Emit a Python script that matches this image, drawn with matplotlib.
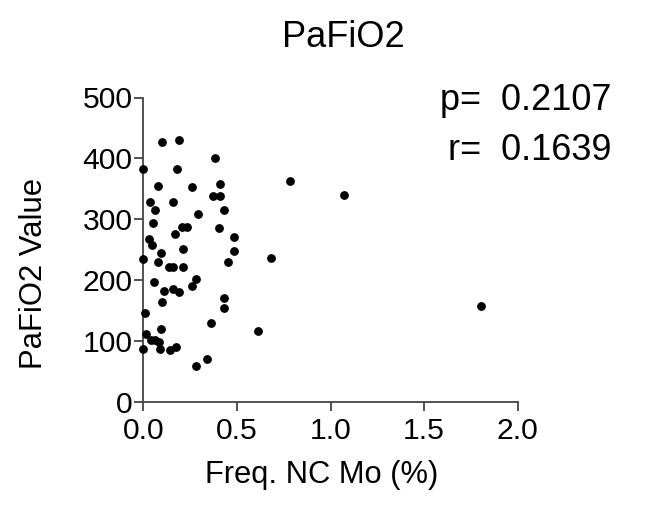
import matplotlib
matplotlib.use("Agg")
import matplotlib.pyplot as plt

plt.rcParams['font.family'] = ['Liberation Sans', 'DejaVu Sans']

freq_nc_mo = [0.10, 0.191, 0.382, 0.0, 0.18, 0.782, 1.073, 0.077, 0.259, 0.411,
              0.37, 0.412, 0.034, 0.159, 0.061, 0.432, 0.291, 0.054, 0.207, 0.236,
              0.402, 0.029, 0.171, 0.482, 0.048, 0.211, 0.095, 0.482, 0.0, 0.079,
              0.682, 0.45, 0.1375, 0.161, 0.211, 0.057, 0.282, 0.259, 0.109, 0.157,
              0.193, 0.10, 0.432, 0.432, 0.007, 0.361, 0.093, 0.611, 0.014, 0.043,
              0.064, 0.086, 0.0, 0.0875, 0.141, 0.175, 0.339, 0.282, 1.803]
pafio2 = [427, 430, 400, 382, 383, 363, 339, 354, 353, 358,
          338, 338, 329, 329, 315, 315, 308, 293, 287, 287,
          286, 268, 276, 271, 257, 251, 244, 247, 234, 230,
          236, 229, 222, 222, 222, 197, 201, 190, 182, 185,
          181, 164, 170, 154, 146, 130, 120, 117, 112, 101,
          101, 98, 87, 87, 85, 90, 70, 58, 158]

x_ticks = [0.0, 0.5, 1.0, 1.5, 2.0]
x_tick_labels = ["0.0", "0.5", "1.0", "1.5", "2.0"]
y_ticks = [0, 100, 200, 300, 400, 500]
y_tick_labels = ["0", "100", "200", "300", "400", "500"]

title = "PaFiO2"
x_label = "Freq. NC Mo (%)"
y_label = "PaFiO2 Value"
p_text = "p=  0.2107"
r_text = "r=  0.1639"

W, H = 654, 509
fig = plt.figure(figsize=(W / 100, H / 100), dpi=100)
left, right, bottom_px, top_px = 143.3, 517.7, 401.7, 97.5
ax = fig.add_axes([left / W, (H - bottom_px) / H, (right - left) / W, (bottom_px - top_px) / H])

ax.plot(freq_nc_mo, pafio2, 'o', color='black', markersize=5.3, clip_on=False, zorder=3)

ax.set_xlim(0, 2.0)
ax.set_ylim(0, 500)
ax.set_xticks(x_ticks)
ax.set_xticklabels(x_tick_labels)
ax.set_yticks(y_ticks)
ax.set_yticklabels(y_tick_labels)

for s in ['top', 'right']:
    ax.spines[s].set_visible(False)
for s in ['left', 'bottom']:
    ax.spines[s].set_color('#444444')
    ax.spines[s].set_linewidth(1.3)

ax.tick_params(axis='both', direction='out', length=6.8, width=1.3, color='#444444',
               labelsize=21.7, labelcolor='black')
ax.tick_params(axis='x', pad=4)
ax.tick_params(axis='y', pad=1)

def fy(px):
    return 1 - px / H

fig.text(321.7 / W, fy(483.3), x_label, fontsize=22.2, ha='center', va='baseline')
fig.text(41.7 / W, fy(273), y_label, fontsize=22.3, ha='center', va='baseline',
         rotation=90, rotation_mode='anchor')
fig.text(343 / W, fy(47.3), title, fontsize=26, ha='center', va='baseline')
fig.text(611.7 / W, fy(110), p_text, fontsize=26, ha='right', va='baseline')
fig.text(611.7 / W, fy(160), r_text, fontsize=26, ha='right', va='baseline')

fig.savefig("out.png", dpi=100)
